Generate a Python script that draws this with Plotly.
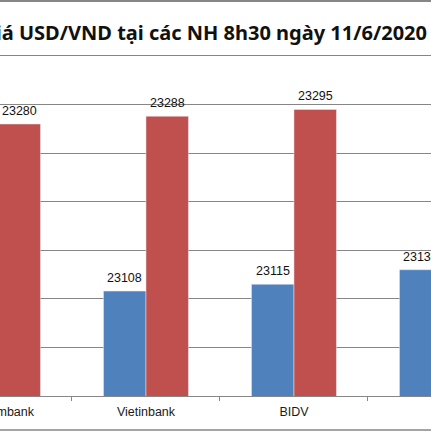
import plotly.graph_objects as go

# data (exchange rates, VND per USD)
banks = ["Vietcombank", "Vietinbank", "BIDV", "ACB"]
buy_rates = [23090, 23108, 23115, 23130]
sell_rates = [23280, 23288, 23295, 23300]
title_text = "Tỷ giá USD/VND tại các NH 8h30 ngày 11/6/2020"

W, H = 431, 431
TOP = 56                      # top of the plot area, px
AXIS_Y = 396                  # category axis line, px from top
X_RANGE = [0.0135, 2.926]     # the chart is cropped on both sides
Y_RANGE = [23000, 23350]
BAR_GAP = 0.426
HALF_BAR = (1 - BAR_GAP) / 4  # offset of each bar centre from the category centre
LABEL_HALF_PX = 36            # rough half width of a category name
LABEL_DROP_PX = 17            # category names sit this far below the axis

BLUE = "#4F81BD"
RED = "#C0504D"
GRID = "#868686"
FONT = "Liberation Sans, Arial, sans-serif"

paper_h = H - TOP
bottom_h = H - AXIS_Y
px_per_cat = W / (X_RANGE[1] - X_RANGE[0])


def py_to_paper(py):
    # pixel row (from top of the page) -> paper y
    return (H - py) / paper_h


fig = go.Figure()
fig.add_trace(go.Bar(x=banks, y=buy_rates, name="Mua vào", marker_color=BLUE))
fig.add_trace(go.Bar(x=banks, y=sell_rates, name="Bán ra", marker_color=RED))

# the first category name lies left of the visible range and is cut by the crop;
# it goes on a helper subplot under the axis, anchored by its right end
fig.add_trace(go.Scatter(
    x=[0 + LABEL_HALF_PX / px_per_cat],
    y=[1 - LABEL_DROP_PX / bottom_h],
    xaxis="x2", yaxis="y2",
    text=[banks[0]], mode="text", textposition="middle left",
    textfont=dict(size=12.5, color="#1a1a1a", family=FONT),
    cliponaxis=False, hoverinfo="skip"))

annotations = []
# value labels above each bar
for i, (b, s) in enumerate(zip(buy_rates, sell_rates)):
    for val, dx in ((b, -HALF_BAR), (s, HALF_BAR)):
        annotations.append(dict(x=i + dx, y=val, xref="x", yref="y", text=str(val),
                                showarrow=False, yanchor="middle", yshift=13,
                                font=dict(size=12.5, color="#111", family=FONT)))

fig.update_layout(
    width=W, height=H,
    margin=dict(l=0, r=0, t=TOP, b=0),
    paper_bgcolor="white", plot_bgcolor="white",
    barmode="group", bargap=BAR_GAP, bargroupgap=0,
    showlegend=False,
    title=dict(text="<b>" + title_text + "</b>", x=427 / W, xanchor="right", xref="container",
               y=1 - 32.5 / H, yanchor="middle", yref="container",
               font=dict(size=20, color="#111", family="Noto Sans, sans-serif")),
    annotations=annotations,
    shapes=[
        dict(type="line", xref="paper", yref="paper", x0=0, x1=1,
             y0=py_to_paper(1), y1=py_to_paper(1), line=dict(color=GRID, width=2)),
        dict(type="line", xref="paper", yref="paper", x0=0, x1=1,
             y0=py_to_paper(430), y1=py_to_paper(430), line=dict(color=GRID, width=1.5)),
    ],
    xaxis=dict(range=X_RANGE, tickson="boundaries", ticks="outside", ticklen=4,
               tickcolor=GRID, showline=True, mirror=True, linecolor=GRID, linewidth=1,
               showgrid=False, ticklabelstandoff=4,
               tickfont=dict(size=12.5, color="#1a1a1a", family=FONT)),
    yaxis=dict(domain=[py_to_paper(AXIS_Y), 1], range=Y_RANGE, dtick=50,
               showticklabels=False, showgrid=True, gridcolor=GRID, gridwidth=1,
               zeroline=False),
    xaxis2=dict(anchor="y2", range=X_RANGE, visible=False),
    yaxis2=dict(anchor="x2", domain=[0, py_to_paper(AXIS_Y)], range=[0, 1], visible=False),
)

# the page's default 8px body margin would shift the whole chart
fig.write_html("out.html", config={"displayModeBar": False},
               post_script="document.body.style.margin='0';")
